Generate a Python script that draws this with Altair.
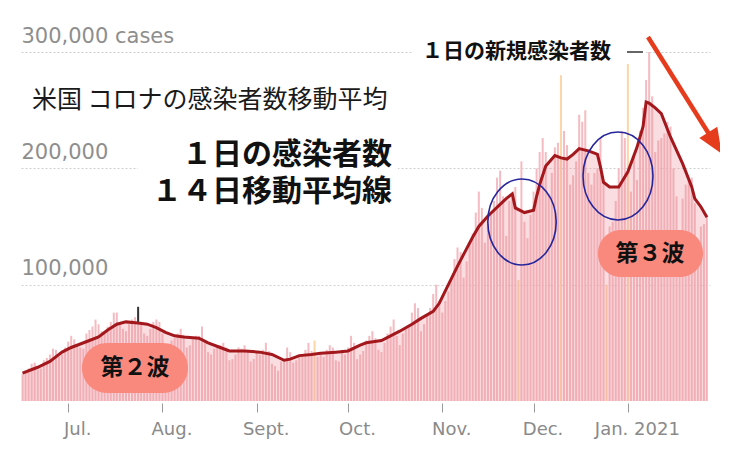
import json
import altair as alt
import pandas as pd

# ---------------- data ----------------
first_day = "2020-06-16"
# daily new cases, thousands (one value per day, Jun 16 2020 .. Jan 27 2021)
daily_k = [
    23, 26, 28, 32, 33, 27, 28,
    35, 37, 40, 45, 44, 38, 40,
    46, 51, 56, 53, 48, 46, 45,
    58, 61, 64, 70, 66, 60, 60,
    64, 68, 76, 76, 66, 62, 60,
    66, 70, 72, 76, 68, 58, 56,
    62, 68, 70, 68, 58, 48, 47,
    52, 54, 58, 62, 57, 46, 48,
    53, 56, 56, 64, 52, 42, 40,
    45, 46, 48, 50, 46, 35, 36,
    40, 46, 45, 48, 44, 34, 36,
    43, 40, 44, 50, 43, 32, 30,
    26, 34, 36, 46, 42, 33, 35,
    38, 40, 44, 50, 43, 52, 38,
    40, 38, 44, 48, 46, 35, 34,
    44, 40, 46, 56, 50, 36, 40,
    43, 52, 56, 60, 54, 44, 42,
    50, 58, 64, 70, 56, 48, 58,
    62, 64, 76, 84, 80, 60, 66,
    74, 80, 92, 100, 86, 76, 86,
    94, 106, 122, 132, 128, 106, 120,
    136, 144, 162, 180, 166, 136, 152,
    160, 172, 192, 198, 176, 142, 172,
    174, 184, 104, 206, 154, 140, 160,
    180, 200, 214, 226, 214, 178, 196,
    218, 222, 280, 232, 220, 186, 194,
    206, 246, 240, 250, 196, 186, 196,
    200, 226, 190, 100, 150, 154, 172,
    200, 232, 226, 290, 180, 210, 190,
    232, 252, 276, 300, 262, 214, 224,
    226, 230, 240, 236, 200, 176, 142,
    174, 186, 190, 192, 170, 130, 150,
    152, 158,
]
# days drawn in yellow (holiday / reporting anomalies)
yellow_days = ["2020-09-20", "2020-11-26", "2020-12-10", "2020-12-25", "2021-01-01"]

# moving-average line, read at points along the curve (thousands)
avg_dates = [
    "2020-06-16", "2020-06-21", "2020-06-25", "2020-06-29", "2020-07-02", "2020-07-05",
    "2020-07-08", "2020-07-11", "2020-07-14", "2020-07-17", "2020-07-20", "2020-07-24",
    "2020-07-27", "2020-07-30", "2020-08-02", "2020-08-05", "2020-08-08", "2020-08-13",
    "2020-08-16", "2020-08-20", "2020-08-23", "2020-08-28", "2020-09-02", "2020-09-06",
    "2020-09-10", "2020-09-12", "2020-09-15", "2020-09-19", "2020-09-22", "2020-09-27",
    "2020-10-01", "2020-10-05", "2020-10-07", "2020-10-12", "2020-10-18", "2020-10-22",
    "2020-10-25", "2020-10-29", "2020-10-31", "2020-11-03", "2020-11-06", "2020-11-09",
    "2020-11-11", "2020-11-13", "2020-11-16", "2020-11-20", "2020-11-22", "2020-11-24",
    "2020-11-25", "2020-11-28", "2020-12-01", "2020-12-02", "2020-12-03", "2020-12-05",
    "2020-12-08", "2020-12-10", "2020-12-12", "2020-12-14", "2020-12-16", "2020-12-19",
    "2020-12-21", "2020-12-22", "2020-12-23", "2020-12-24", "2020-12-26", "2020-12-29",
    "2021-01-01", "2021-01-04", "2021-01-06", "2021-01-07", "2021-01-08", "2021-01-10",
    "2021-01-12", "2021-01-15", "2021-01-19", "2021-01-22", "2021-01-23", "2021-01-25",
    "2021-01-27",
]
avg_k = [
    24, 29, 34, 42, 46, 49,
    52, 55, 61, 66, 68, 67,
    66, 63, 59, 56, 55, 54,
    50, 46, 43, 43, 42, 40,
    35, 36, 39, 40, 41, 42,
    43, 48, 50, 52, 60, 66,
    71, 77, 84, 100, 116, 131,
    141, 150, 159, 169, 174, 178,
    166, 162, 164, 176, 186, 202,
    211, 209, 208, 212, 217, 215,
    213, 212, 201, 188, 184, 184,
    197, 218, 236, 257, 256, 252,
    247, 227, 204, 184, 174, 167,
    158,
]

# earlier peak marker (date, low, high)
peak_mark = {"date": ["2020-07-24"], "lo": [68000], "hi": [81000]}

tick_dates = [(2020, 7, 1), (2020, 8, 1), (2020, 9, 1), (2020, 10, 1),
              (2020, 11, 1), (2020, 12, 1), (2021, 1, 1)]
tick_labels = ["Jul.", "Aug.", "Sept.", "Oct.", "Nov.", "Dec.", "Jan. 2021"]
y_ticks = [100000, 200000, 300000]

# ---------------- tables ----------------
dates = pd.date_range(first_day, periods=len(daily_k), freq="D")
bars = pd.DataFrame({
    "start": dates - pd.Timedelta(hours=8),
    "end": dates + pd.Timedelta(hours=8),
    "base": 0,
    "cases": [v * 1000 for v in daily_k],
    "kind": ["holiday" if d.strftime("%Y-%m-%d") in yellow_days else "normal" for d in dates],
})
avg = pd.DataFrame({"date": pd.to_datetime(avg_dates), "avg": [v * 1000 for v in avg_k]})
peak = pd.DataFrame({"date": pd.to_datetime(peak_mark["date"]), "lo": peak_mark["lo"], "hi": peak_mark["hi"]})

month_names = [""] * 12
for (yy, mm, dd), lab in zip(tick_dates, tick_labels):
    month_names[mm - 1] = lab

xscale = alt.Scale(domain=[alt.DateTime(year=2020, month=6, date=15, hours=12),
                           alt.DateTime(year=2021, month=1, date=28)])
yscale = alt.Scale(domain=[0, 300000], nice=False)

xaxis = alt.Axis(
    values=[alt.DateTime(year=y, month=m, date=d) for (y, m, d) in tick_dates],
    labelExpr=f"{json.dumps(month_names)}[month(datum.value)]",
    labelAlign="center", labelOffset=9, labelBaseline="alphabetic", labelPadding=22,
    tickSize=9, offset=2, tickColor="#9a9a9a", tickWidth=1, domain=False, grid=False,
    labelColor="#8a8a8a", labelFont="DejaVu Sans", labelFontSize=18,
    labelFlush=False, labelOverlap=False, title=None,
)
yaxis = alt.Axis(
    values=y_ticks,
    labelExpr=f"datum.value == {max(y_ticks)} ? format(datum.value, ',') + ' cases' : format(datum.value, ',')",
    labelAlign="left", labelBaseline="alphabetic", labelOffset=-10, labelPadding=0,
    ticks=False, domain=False, grid=True, gridDash=[2, 2], gridColor="#cfcfcf",
    labelColor="#8e8e8e", labelFont="DejaVu Sans", labelFontSize=21, labelFlush=False,
    title=None,
)

bar_layer = alt.Chart(bars).mark_rect().encode(
    x=alt.X("start:T", scale=xscale, axis=xaxis, title=None),
    x2="end:T",
    y=alt.Y("cases:Q", scale=yscale, axis=yaxis, title=None),
    y2="base:Q",
    color=alt.Color("kind:N", scale=alt.Scale(domain=["normal", "holiday"],
                                              range=["#f4bcc2", "#fad6a8"]), legend=None),
)
area_layer = alt.Chart(avg).mark_area(color="#ec8f99", opacity=0.3).encode(
    x=alt.X("date:T", title=None), y=alt.Y("avg:Q", title=None))
line_layer = alt.Chart(avg).mark_line(color="#a3181d", strokeWidth=3).encode(
    x=alt.X("date:T", title=None), y=alt.Y("avg:Q", title=None))
peak_layer = alt.Chart(peak).mark_rule(color="#333333", strokeWidth=2).encode(
    x=alt.X("date:T", title=None), y=alt.Y("lo:Q", title=None), y2="hi:Q")

JP = "Noto Sans CJK JP"
one = pd.DataFrame({"a": [0]})


def box(x1, x2, y1, y2, color, radius=0):
    return alt.Chart(one).mark_rect(color=color, cornerRadius=radius).encode(
        x=alt.value(x1), x2=alt.value(x2), y=alt.value(y1), y2=alt.value(y2))


def label(text, x, y, size, weight, align, color="#111111"):
    return alt.Chart(pd.DataFrame({"t": [text]})).mark_text(
        font=JP, fontSize=size, fontWeight=weight, align=align, baseline="middle", color=color
    ).encode(x=alt.value(x), y=alt.value(y), text="t:N")


ellipse_path = "M -0.795 0 A 0.795 1 0 1 0 0.795 0 A 0.795 1 0 1 0 -0.795 0 Z"
arrow_head = "M 0 -1 L 0.85 1 L -0.85 1 Z"
RED = "#e63c1e"
BLUE = "#25259c"
PILL = "#fa897d"

layers = [
    bar_layer, area_layer, line_layer, peak_layer,
    box(117, 377, 76, 160, "white"),
    box(391, 625, -12, 12, "white"),
    label("米国 コロナの感染者数移動平均", 11, 48, 25, "normal", "left", "#1a1a1a"),
    label("１日の感染者数", 371, 103, 30, "bold", "right"),
    label("１４日移動平均線", 371, 140, 30, "bold", "right"),
    label("１日の新規感染者数", 401, 0, 21, "bold", "left"),
    alt.Chart(one).mark_rule(color="#666666", strokeWidth=2).encode(
        x=alt.value(606), x2=alt.value(622), y=alt.value(0)),
    box(61, 167, 291, 341, PILL, 25),
    label("第２波", 114, 316, 23, "bold", "center"),
    box(577, 682, 178, 225, PILL, 23),
    label("第３波", 629, 202, 23, "bold", "center"),
    alt.Chart(one).mark_point(shape=ellipse_path, size=7396, filled=False, color=BLUE,
                              strokeWidth=1.6, opacity=1).encode(
        x=alt.value(501), y=alt.value(170)),
    alt.Chart(one).mark_point(shape=ellipse_path, size=7744, filled=False, color=BLUE,
                              strokeWidth=1.6, opacity=1).encode(
        x=alt.value(597), y=alt.value(124)),
    alt.Chart(one).mark_rule(color=RED, strokeWidth=4.5).encode(
        x=alt.value(627), y=alt.value(-15), x2=alt.value(688), y2=alt.value(82)),
    alt.Chart(one).mark_point(shape=arrow_head, size=625, filled=True, color=RED,
                              angle=147.7, opacity=1).encode(
        x=alt.value(694), y=alt.value(91)),
]

chart = alt.layer(*layers).properties(
    width=689, height=349,
    padding={"left": 13, "top": 44, "right": 10, "bottom": 60},
    autosize=alt.AutoSizeParams(type="none"),
).configure_view(strokeWidth=0)

chart.save("out.html", embed_options={"renderer": "svg", "actions": False})
